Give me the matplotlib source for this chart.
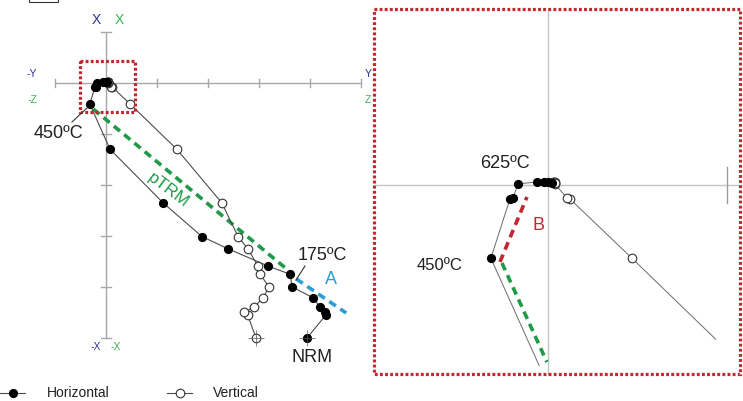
import matplotlib
matplotlib.use("Agg")
import matplotlib.pyplot as plt
from matplotlib.patches import Rectangle

plt.rcParams['font.family'] = ['Liberation Sans', 'DejaVu Sans']

# Demagnetization steps (shared X component; Y for the horizontal
# projection, Z for the vertical projection), in tick units.
comp_x = [-5.00, -4.55, -4.49, -4.40, -4.21, -4.00, -3.75, -3.59, -3.25, -3.01,
          -2.35, -1.30, -0.41, -0.078, -0.073, 0.006, 0.017, 0.017, 0.017, 0.011]
comp_y = [3.94, 4.31, 4.29, 4.20, 4.06, 3.65, 3.61, 3.18, 2.39, 1.88,
          1.12, 0.08, -0.32, -0.213, -0.196, -0.168, -0.062, -0.022, 0.0, 0.022]
comp_z = [2.94, 2.78, 2.71, 2.90, 3.08, 3.20, 3.02, 2.98, 2.78, 2.59,
          2.27, 1.39, 0.47, 0.123, 0.106, 0.039, 0.03, 0.035, 0.04, 0.04]

# Fitted components
ptrm_fit = ([-0.25, 3.57], [-0.51, -3.67])
a_fit = ([3.73, 4.71], [-3.84, -4.51])
ptrm_fit_zoom = ([-0.258, -0.006], [-0.437, -0.992])
b_fit_zoom = ([-0.269, -0.118], [-0.431, -0.067])

axis_ticks = [-1, 1, 2, 3, 4, 5]
vert_ticks = [1, -1, -2, -3, -4, -5]

W, H = 743, 401
fig = plt.figure(figsize=(W / 100, H / 100), dpi=100)


def box(x0, y0, x1, y1):
    return fig.add_axes([x0 / W, 1 - y1 / H, (x1 - x0) / W, (y1 - y0) / H])


LINE = '#4d4d4d'
AXC = '#a8a8a8'
RED = '#c1272d'
GREEN = '#1f9a48'
CYAN = '#2b9fd4'
NAVY = '#2e3192'
LGREEN = '#39b54a'
TXT = '#231f20'

# ---------------- main diagram ----------------
OX, OY, PX = 106, 83, 51
ax = box(0, 0, W, H)
ax.set_xlim(-OX / PX, (W - OX) / PX)
ax.set_ylim(-(H - OY) / PX, OY / PX)
ax.axis('off')

ax.plot([-1, 5], [0, 0], color=AXC, lw=1.0, zorder=1)
ax.plot([0, 0], [1, -5], color=AXC, lw=1.0, zorder=1)
for t in axis_ticks:
    ax.plot([t, t], [-0.08, 0.08], color=AXC, lw=1.0, zorder=1)
for t in vert_ticks:
    ax.plot([-0.1, 0.1], [t, t], color=AXC, lw=1.0, zorder=1)

ax.plot(*ptrm_fit, color=GREEN, lw=2.6, ls=(0, (2.2, 1.5)), zorder=2)
ax.plot(*a_fit, color=CYAN, lw=2.6, ls=(0, (2.2, 1.5)), zorder=2)

ax.plot(comp_z, comp_x, '-', color=LINE, lw=0.8, marker='o', ms=6.2,
        mfc='white', mec='#333333', mew=0.8, zorder=3)
ax.plot(comp_y, comp_x, '-', color=LINE, lw=0.8, marker='o', ms=5.6,
        mfc='black', mec='black', zorder=4)
# NRM crosshairs
ax.plot([comp_y[0], comp_z[0]], [comp_x[0], comp_x[0]], ls='none',
        marker='+', ms=12, mew=0.5, color='#555555', zorder=5)

# ---------------- enlarged view ----------------
IX, IY, S = 548, 185, 178.5
axi = box(373, 9, 716, 366)
axi.set_xlim((373 - IX) / S, (716 - IX) / S)
axi.set_ylim((IY - 366) / S, (IY - 9) / S)
axi.axis('off')

ILC = '#c4c4c4'
axi.plot([(373 - IX) / S, (741 - IX) / S], [0, 0], color=ILC, lw=1.0,
         clip_on=False, zorder=1)
axi.plot([0, 0], [(IY - 374) / S, (IY - 9) / S], color=ILC, lw=1.0,
         clip_on=False, zorder=1)
axi.plot([1.0, 1.0], [-0.1, 0.1], color='#9a9a9a', lw=1.0, clip_on=False, zorder=1)

axi.plot(*ptrm_fit_zoom, color=GREEN, lw=2.6, ls=(0, (2.2, 1.5)), zorder=2)
axi.plot(*b_fit_zoom, color=RED, lw=2.6, ls=(0, (2.2, 1.5)), zorder=2)

axi.plot(comp_z, comp_x, '-', color='#6a6a6a', lw=0.7, marker='o', ms=6.2,
         mfc='white', mec='#333333', mew=0.8, zorder=3)
axi.plot(comp_y, comp_x, '-', color='#6a6a6a', lw=0.7, marker='o', ms=5.6,
         mfc='black', mec='black', zorder=4)

# ---------------- annotations (pixel space) ----------------
ov = box(0, 0, W, H)
ov.set_xlim(0, W)
ov.set_ylim(H, 0)
ov.axis('off')

dotted = dict(fill=False, edgecolor=RED, lw=2.3, ls=(0, (0.9, 0.7)), clip_on=False)
ov.add_patch(Rectangle((80, 61), 55, 51, **dotted))
ov.add_patch(Rectangle((374, 9), 366, 365, **dotted))
ov.add_patch(Rectangle((29, -6), 29, 8, fill=False, edgecolor='#333333', lw=0.8,
                       clip_on=False))

ov.text(96, 20, 'X', color=NAVY, fontsize=10, ha='center', va='center')
ov.text(119, 20, 'X', color=LGREEN, fontsize=10, ha='center', va='center')
ov.text(32, 74, '-Y', color=NAVY, fontsize=7.5, ha='center', va='center')
ov.text(32, 100, '-Z', color=LGREEN, fontsize=7.5, ha='center', va='center')
ov.text(368, 74, 'Y', color=NAVY, fontsize=7.5, ha='center', va='center')
ov.text(368, 100, 'Z', color=LGREEN, fontsize=7.5, ha='center', va='center')
ov.text(96, 347, '-X', color=NAVY, fontsize=7.5, ha='center', va='center')
ov.text(116, 347, '-X', color=LGREEN, fontsize=7.5, ha='center', va='center')

ov.text(58, 133, '450ºC', color=TXT, fontsize=13, ha='center', va='center')
ov.plot([72, 87], [122, 108], color='#333333', lw=0.8)
ov.text(322, 255, '175ºC', color=TXT, fontsize=13, ha='center', va='center')
ov.plot([305, 296], [266, 280], color='#333333', lw=0.8)
ov.text(312, 358, 'NRM', color=TXT, fontsize=13, ha='center', va='center')
ov.text(168, 190, 'pTRM', color=GREEN, fontsize=12.5, ha='center', va='center',
        rotation=-37, rotation_mode='anchor')
ov.text(331, 279, 'A', color=CYAN, fontsize=13, ha='center', va='center')

ov.text(505, 164, '625ºC', color=TXT, fontsize=13, ha='center', va='center')
ov.text(440, 266, '450ºC', color=TXT, fontsize=12, ha='center', va='center')
ov.text(538, 226, 'B', color=RED, fontsize=13, ha='center', va='center')

# legend
ov.plot([0, 25], [393, 393], color=LINE, lw=0.8, clip_on=False)
ov.plot([13], [393], marker='o', ms=5.6, mfc='black', mec='black')
ov.text(47, 393, 'Horizontal', color=TXT, fontsize=10, ha='left', va='center')
ov.plot([167, 192], [393, 393], color=LINE, lw=0.8)
ov.plot([180], [393], marker='o', ms=6.2, mfc='white', mec='#333333', mew=0.8)
ov.text(213, 393, 'Vertical', color=TXT, fontsize=10, ha='left', va='center')

fig.savefig('out.png', dpi=100)
